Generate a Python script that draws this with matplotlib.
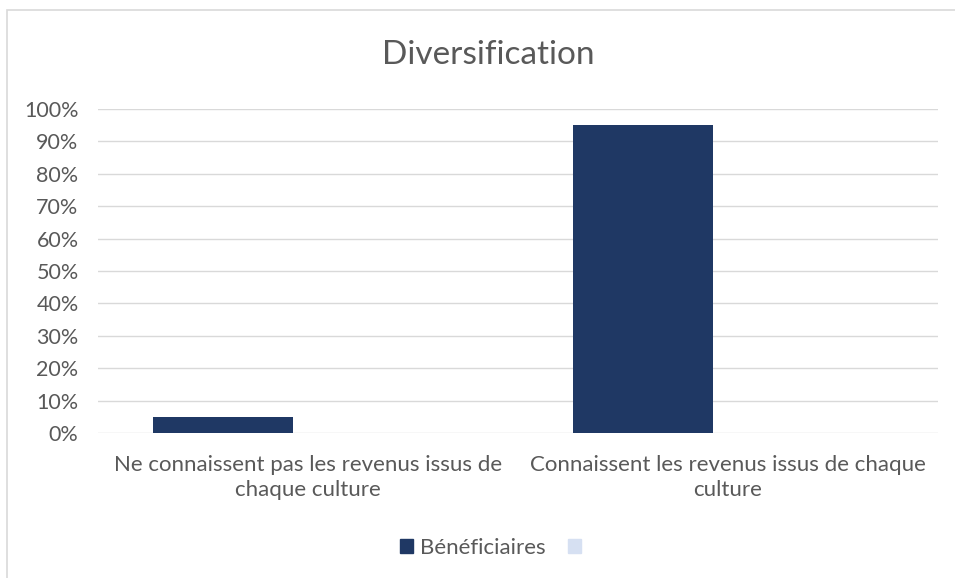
import matplotlib
matplotlib.use("Agg")
from matplotlib import pyplot as plt
from matplotlib.patches import Rectangle, Patch
import numpy as np

plt.rcParams['font.family'] = ['Lato', 'DejaVu Sans']

# data
categories = ["Ne connaissent pas les revenus issus de\nchaque culture",
              "Connaissent les revenus issus de chaque\nculture"]
beneficiaires = [0.05, 0.95]
autre = [0, 0]
series_names = ["Bénéficiaires", ""]
yticks = np.arange(0, 1.01, 0.1)

grey = '#595959'
navy = '#1F3864'
light = '#D6E0F2'

fig = plt.figure(figsize=(9.55, 5.78), dpi=100)
ax = fig.add_axes([98/955, 1-433/578, 840/955, 324/578])

x = np.arange(len(categories))
w = 0.333
ax.bar(x - 0.202, beneficiaires, w, color=navy, zorder=3)
ax.bar(x - 0.202 + w, autre, w, color=light, zorder=3)

ax.set_xlim(-0.5, 1.5)
ax.set_ylim(0, 1)
ax.set_yticks(yticks)
ax.set_yticklabels([f"{int(round(t*100))}%" for t in yticks], color=grey, fontsize=15.5)
ax.set_xticks(x)
ax.set_xticklabels(categories, color=grey, fontsize=16, linespacing=1.3)
ax.tick_params(axis='y', length=0, pad=14)
ax.tick_params(axis='x', length=0, pad=16)
ax.grid(axis='y', color='#D9D9D9', lw=1, zorder=0)
for s in ax.spines.values():
    s.set_visible(False)

fig.text(488/955, 1-55/578, "Diversification", ha='center', va='center',
         fontsize=24, color=grey)

handles = [Patch(color=navy), Patch(color=light)]
leg = fig.legend(handles, series_names, loc='center', bbox_to_anchor=(494/955, 1-548/578),
                 ncol=2, frameon=False, fontsize=16, handlelength=0.6, handleheight=0.6,
                 handletextpad=0.3, columnspacing=1.0)
for t in leg.get_texts():
    t.set_color(grey)

fig.patches.append(Rectangle((7/955, -0.05), 1.0, 1-10/578+0.05, transform=fig.transFigure,
                             fill=False, edgecolor='#D9D9D9', lw=1.2))

fig.savefig("out.png", dpi=100)
